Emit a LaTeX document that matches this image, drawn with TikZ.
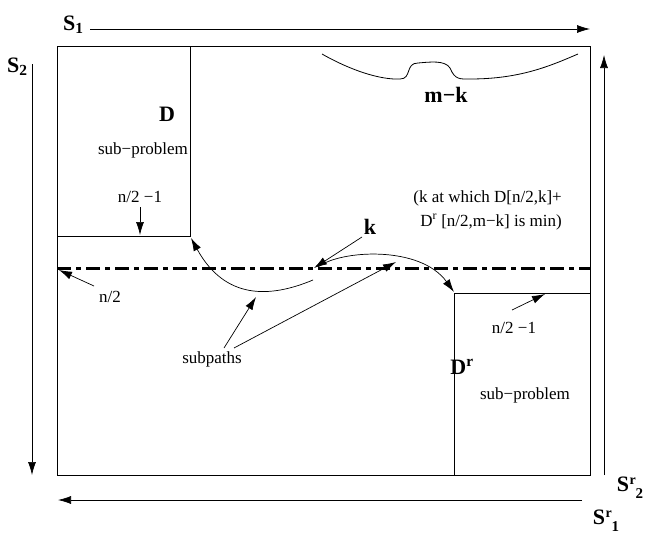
\documentclass[tikz,border=0pt]{standalone}
\usepackage{fontspec}
\setmainfont{Liberation Serif}
\usetikzlibrary{arrows.meta}
\newcommand\SupSub[2]{S\kern0.5pt\raisebox{7.5pt}{\fontsize{14}{14}\selectfont #1}\raisebox{-7pt}{\fontsize{15}{15}\selectfont #2}}
\tikzset{
  arr/.style={-{Latex[length=13pt,width=8pt]}, line width=0.7pt},
  thin line/.style={line width=0.8pt},
  txt/.style={font=\fontsize{17}{19}\selectfont, inner sep=0pt},
  bigbold/.style={font=\fontsize{22}{24}\selectfont\bfseries, inner sep=0pt},
  slab/.style={font=\fontsize{22}{24}\selectfont\bfseries, inner sep=0pt},
  midline/.style={line width=3pt, dash pattern=on 14pt off 5pt on 5pt off 5pt}
}
\begin{document}
\begin{tikzpicture}[x=1pt,y=-1pt]
\useasboundingbox (0,0) rectangle (650,538);
% main frame
\draw[thin line] (57,46) rectangle (590,475);
% D sub-problem box
\draw[thin line] (190,46) -- (190,236) -- (57,236);
% Dr sub-problem box
\draw[thin line] (454,475) -- (454,293) -- (590,293);
% middle dash-dot line
\draw[midline] (57,268) -- (590,268);

% S labels and arrows
\node[slab, anchor=south west] (s1) at (63,34) {S\textsubscript{1}};
\coordinate (s1a) at (90,29); \coordinate (s1b) at (590,29);
\draw[arr] (s1a) -- (s1b);
\node[slab, anchor=north west] (s2) at (7,58) {S\textsubscript{2}};
\coordinate (s2a) at (32,64); \coordinate (s2b) at (32,475);
\draw[arr] (s2a) -- (s2b);
\coordinate (sr2a) at (604,475); \coordinate (sr2b) at (604,55);
\draw[arr] (sr2a) -- (sr2b);
\node[slab] (sr2) at (630,488) {\SupSub{r}{2}};
\coordinate (sr1a) at (582,500); \coordinate (sr1b) at (58,500);
\draw[arr] (sr1a) -- (sr1b);
\node[slab] (sr1) at (606,521) {\SupSub{r}{1}};

% D box labels
\node[bigbold] (D) at (167,114) {D};
\node[txt] (sp1) at (143,150) {sub−problem};
\node[txt] (n21) at (140,197) {n/2 −1};
\coordinate (n21t) at (140,235);
\draw[arr] (140,207) coordinate (n21s) -- (n21t);

% n/2 label
\node[txt] (n2) at (110,297) {n/2};
\coordinate (n2t) at (59,270);
\draw[arr] (94,286) coordinate (n2s) -- (n2t);

% left subpath curve
\coordinate (lp1) at (313,280);
\coordinate (lp2) at (191,238);
\draw[arr] (lp1) .. controls (270,298) and (225,300) .. (lp2);

% k label
\node[bigbold] (k) at (370,227) {k};
\coordinate (kt) at (314,268);
\draw[arr] (362,237) coordinate (ks) -- (kt);

% right subpath curve
\coordinate (rp1) at (318,267);
\coordinate (rp2) at (454,292);
\draw[arr] (rp1) .. controls (340,250) and (420,245) .. (rp2);

% subpaths
\node[txt] (subp) at (212,359) {subpaths};
\coordinate (sa1) at (256,297);
\coordinate (sa2) at (396,262);
\draw[arr] (224,348) coordinate (sb1) -- (sa1);
\draw[arr] (234,348) coordinate (sb2) -- (sa2);

% explanation text
\node[txt, anchor=east] (ex1) at (562,198) {(k at which D[n/2,k]+};
\node[txt, anchor=east] (ex2) at (562,222) {D\textsuperscript{r} [n/2,m−k] is min)};

% right box labels
\node[txt] (n21r) at (514,328) {n/2 −1};
\coordinate (n21rt) at (545,294);
\draw[arr] (512,310) coordinate (n21rs) -- (n21rt);
\node[bigbold] (Dr) at (462,367) {D\textsuperscript{r}};
\node[txt] (sp2) at (525,395) {sub−problem};

% m-k curve
\coordinate (mk1) at (322,54);
\coordinate (mk2) at (578,54);
\draw[thin line] (mk1) .. controls (350,70) and (380,80) .. (400,79)
  .. controls (412,79) and (405,63) .. (418,63)
  .. controls (430,62) and (445,60) .. (450,68)
  .. controls (455,80) and (460,79) .. (470,79)
  .. controls (520,79) and (550,66) .. (mk2);
\node[bigbold] (mk) at (446,95) {m−k};
\end{tikzpicture}
\end{document}
